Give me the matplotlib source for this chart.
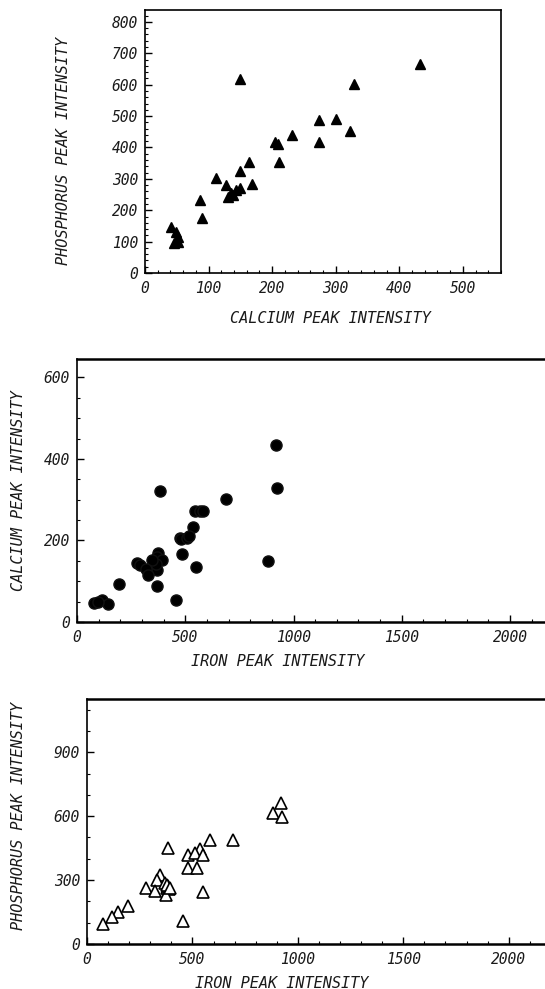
import matplotlib
matplotlib.use("Agg")
import matplotlib.pyplot as plt
from matplotlib.ticker import MultipleLocator

# panel 1: calcium vs phosphorus
ca_1 = [433, 149, 329, 273, 301, 322, 232, 273, 205, 209, 211, 164, 150, 112,
        127, 169, 150, 143, 135, 130, 138, 87, 90, 41, 48, 52, 45, 52]
p_1 = [665, 617, 602, 486, 490, 451, 439, 416, 417, 412, 354, 355, 325, 304,
       280, 285, 270, 264, 254, 242, 248, 232, 176, 146, 131, 115, 95, 100]

# panel 2: iron vs calcium
fe_2 = [917, 923, 382, 689, 883, 546, 567, 580, 536, 476, 482, 507, 518, 483,
        548, 457, 371, 376, 368, 391, 368, 366, 345, 276, 290, 317, 327, 195,
        80, 114, 145, 95]
ca_2 = [434, 329, 322, 302, 149, 273, 273, 273, 232, 205, 204, 207, 210, 166,
        136, 54, 89, 168, 160, 152, 127, 143, 152, 145, 140, 129, 115, 93,
        47, 54, 44, 48]

# panel 3: iron vs phosphorus
fe_3 = [918, 883, 924, 691, 582, 386, 536, 477, 510, 551, 480, 523, 551, 456,
        346, 330, 372, 378, 391, 374, 278, 322, 196, 148, 117, 77, 385, 380, 395]
p_3 = [664, 614, 598, 486, 486, 450, 445, 416, 427, 416, 356, 356, 242, 106,
       325, 301, 286, 262, 258, 231, 262, 250, 180, 148, 129, 95, 270, 275, 265]

W, H = 545, 989
FONT = dict(family="DejaVu Sans Mono", style="oblique", color="#1a1a1a")


def box(left, top, width, height):
    return [left / W, 1 - (top + height) / H, width / W, height / H]


def style_axes(ax, xminor, yminor, thick_tb=False):
    ax.xaxis.set_minor_locator(MultipleLocator(xminor))
    ax.yaxis.set_minor_locator(MultipleLocator(yminor))
    ax.tick_params(which="major", direction="in", length=5, width=1,
                   labelsize=10.5, top=False, right=False)
    ax.tick_params(which="minor", direction="in", length=2.5, width=0.8,
                   top=False, right=False)
    ax.tick_params(axis="x", pad=6)
    ax.tick_params(axis="y", pad=5)
    for lab in ax.get_xticklabels() + ax.get_yticklabels():
        lab.set_fontfamily(FONT["family"])
        lab.set_fontstyle(FONT["style"])
        lab.set_color(FONT["color"])
    for s in ax.spines.values():
        s.set_linewidth(1.2)
    if thick_tb:
        ax.spines["top"].set_linewidth(1.8)
        ax.spines["bottom"].set_linewidth(1.8)


fig = plt.figure(figsize=(W / 100, H / 100), dpi=100, facecolor="white")

# --- panel 1
ax1 = fig.add_axes(box(145, 10, 356, 263))
ax1.plot(ca_1, p_1, ls="none", marker="^", ms=7.5, color="black")
ax1.set_xlim(0, 560)
ax1.set_ylim(0, 838)
ax1.set_xticks(range(0, 501, 100))
ax1.set_yticks(range(0, 801, 100))
style_axes(ax1, 20, 20)
fig.text(63 / W, 1 - 151 / H, "PHOSPHORUS PEAK INTENSITY", rotation=90,
         ha="center", va="center", fontsize=11, **FONT)
fig.text(330 / W, 1 - 318 / H, "CALCIUM PEAK INTENSITY",
         ha="center", va="center", fontsize=11, **FONT)

# --- panel 2
ax2 = fig.add_axes(box(77, 359, 498, 263))
ax2.plot(fe_2, ca_2, ls="none", marker="o", ms=8, color="black",
         mec="#111111")
ax2.set_xlim(0, 2300)
ax2.set_ylim(0, 645)
ax2.set_xticks(range(0, 2001, 500))
ax2.set_yticks(range(0, 601, 200))
style_axes(ax2, 100, 50, thick_tb=True)
fig.text(19 / W, 1 - 491 / H, "CALCIUM PEAK INTENSITY", rotation=90,
         ha="center", va="center", fontsize=11, **FONT)
fig.text(278 / W, 1 - 661 / H, "IRON PEAK INTENSITY",
         ha="center", va="center", fontsize=11, **FONT)

# --- panel 3
ax3 = fig.add_axes(box(87, 699, 485, 245))
ax3.plot(fe_3, p_3, ls="none", marker="^", ms=8, mfc="white",
         mec="black", mew=1.2)
ax3.set_xlim(0, 2300)
ax3.set_ylim(0, 1150)
ax3.set_xticks(range(0, 2001, 500))
ax3.set_yticks(range(0, 901, 300))
style_axes(ax3, 100, 100, thick_tb=True)
fig.text(19 / W, 1 - 816 / H, "PHOSPHORUS PEAK INTENSITY", rotation=90,
         ha="center", va="center", fontsize=11, **FONT)
fig.text(282 / W, 1 - 983 / H, "IRON PEAK INTENSITY",
         ha="center", va="center", fontsize=11, **FONT)

plt.savefig("out.png", dpi=100, facecolor="white")
